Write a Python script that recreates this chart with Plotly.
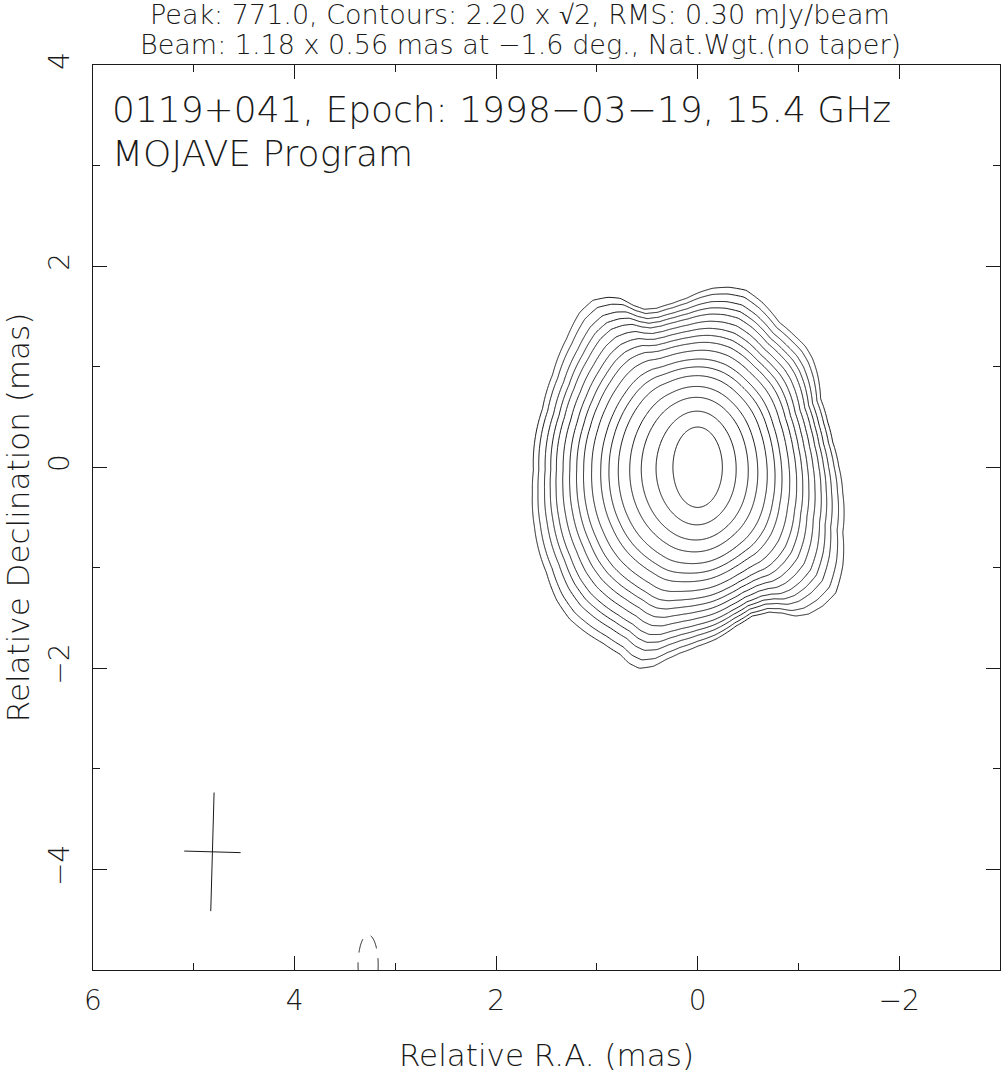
import numpy as np
import plotly.graph_objects as go

peak = 771.0            # mJy/beam
base_level = 2.20       # lowest contour, mJy/beam, steps of sqrt(2)
rms = 0.30
n_levels = 17           # 2.2 * sqrt(2)^k, k = 0..16

# Lowest (2.2 mJy/beam) contour traced on the map: RA, Dec offsets (mas)
outer_ra = [1.63, 1.54, 1.44, 1.30, 1.17, 1.04, 0.89, 0.77, 0.64, 0.53, 0.41, 0.25,
            0.11, -0.02, -0.15, -0.31, -0.48, -0.64, -0.81, -0.97, -1.07, -1.14,
            -1.19, -1.22, -1.29, -1.34, -1.40, -1.44, -1.44, -1.44, -1.37, -1.24,
            -1.10, -0.97, -0.84, -0.71, -0.54, -0.38, -0.18, 0.00, 0.18, 0.31, 0.44,
            0.58, 0.68, 0.77, 0.94, 1.10, 1.27, 1.40, 1.50, 1.57, 1.62, 1.64]
outer_dec = [-0.03, 0.58, 0.92, 1.28, 1.54, 1.66, 1.69, 1.68, 1.61, 1.57, 1.58, 1.63,
             1.68, 1.74, 1.78, 1.79, 1.76, 1.64, 1.44, 1.30, 1.20, 1.08, 0.92, 0.68,
             0.45, 0.25, 0.01, -0.26, -0.65, -0.98, -1.25, -1.38, -1.46, -1.48, -1.45,
             -1.44, -1.48, -1.58, -1.71, -1.78, -1.85, -1.91, -1.98, -2.00, -1.95,
             -1.86, -1.75, -1.65, -1.51, -1.32, -1.05, -0.85, -0.59, -0.26]

# Innermost (563 mJy/beam) contour half-sizes (mas)
inner_half_ra = 0.245
inner_half_dec = 0.40

# Radii of the 17 contours along the eastward ray (mas), lowest to highest level
east_profile = [1.64, 1.58, 1.51, 1.45, 1.39, 1.32, 1.25, 1.18, 1.11, 1.03, 0.94,
                0.86, 0.77, 0.66, 0.55, 0.41, 0.25]

# Negative (-2.2 mJy/beam) contour near the bottom edge
neg_center = (3.27, -4.95)
neg_half = (0.10, 0.30)

# Restoring beam: major, minor (mas), PA (deg), plotted position (RA, Dec)
beam_major = 1.18
beam_minor = 0.56
beam_pa = -1.6
beam_pos = (4.815, -3.825)

title_line1 = "Peak: 771.0, Contours: 2.20 x \u221a2, RMS: 0.30 mJy/beam"
title_line2 = "Beam: 1.18 x 0.56 mas at \u22121.6 deg., Nat.Wgt.(no taper)"
label_line1 = "0119+041, Epoch: 1998\u221203\u221219, 15.4 GHz"
label_line2 = "MOJAVE Program"

x_range = [6, -3]
y_range = [-5, 4]

# ---------------- build the map grid from the traced contours ----------------
ra = np.arange(-2.4, 2.4, 0.01)
dec = np.arange(-2.7, 2.5, 0.01)
X, Y = np.meshgrid(ra, dec)
R = np.hypot(X, Y)
TH = np.arctan2(Y, X)

oth = np.arctan2(outer_dec, outer_ra)
orr = np.hypot(outer_ra, outer_dec)
order = np.argsort(oth)

NT = 720
th_s = np.linspace(-np.pi, np.pi, NT, endpoint=False)
r0_s = np.interp(th_s, oth[order], orr[order], period=2 * np.pi)
F = np.fft.rfft(r0_s)
F[3:] = 0
r0_low = np.fft.irfft(F, NT)
r0_high = r0_s - r0_low
r16_s = 1.0 / np.sqrt((np.cos(th_s) / inner_half_ra) ** 2 + (np.sin(th_s) / inner_half_dec) ** 2)

ep = np.array(east_profile)
t = (ep - ep[-1]) / (ep[0] - ep[-1])      # 1 at lowest contour, 0 at innermost
Rk_s = (r16_s[None, :] + t[:, None] * (r0_low - r16_s)[None, :]
        + (t[:, None] ** 3) * r0_high[None, :])
RR = np.stack([np.interp(TH, th_s, Rk_s[k], period=2 * np.pi)
               for k in range(n_levels - 1, -1, -1)])      # ascending radius
j = (R[None] >= RR).sum(0)
jc = np.clip(j, 1, n_levels - 1)
lo = np.take_along_axis(RR, (jc - 1)[None], 0)[0]
hi = np.take_along_axis(RR, jc[None], 0)[0]
Z = (n_levels - 1 - (jc - 1)) - (R - lo) / (hi - lo)
k_peak = np.log(peak / base_level) / np.log(np.sqrt(2))
inside = j == 0
Z[inside] = (16 + (k_peak - 16) * (1 - (R / RR[0]) ** 2))[inside]

# negative blob
nra = np.arange(2.9, 3.7, 0.005)
ndec = np.arange(-5.4, -4.4, 0.005)
NX, NY = np.meshgrid(nra, ndec)
NZ = ((NX - neg_center[0]) / neg_half[0]) ** 2 + ((NY - neg_center[1]) / neg_half[1]) ** 2

# beam cross end points
pa = np.deg2rad(beam_pa)
maj_dx, maj_dy = np.sin(pa) * beam_major / 2, np.cos(pa) * beam_major / 2
min_dx, min_dy = np.cos(pa) * beam_minor / 2, -np.sin(pa) * beam_minor / 2
cross_x = [beam_pos[0] - maj_dx, beam_pos[0] + maj_dx, None,
           beam_pos[0] - min_dx, beam_pos[0] + min_dx]
cross_y = [beam_pos[1] - maj_dy, beam_pos[1] + maj_dy, None,
           beam_pos[1] - min_dy, beam_pos[1] + min_dy]

# ---------------- figure ----------------
FONT = "DejaVu Sans"
INK = "#1a1a1a"
black = [[0, INK], [1, INK]]

fig = go.Figure()
fig.add_trace(go.Contour(
    x=ra, y=dec, z=Z,
    contours=dict(start=0, end=n_levels - 1, size=1, coloring="lines"),
    line=dict(width=1, color=INK, smoothing=1),
    colorscale=black, showscale=False, hoverinfo="skip"))
fig.add_trace(go.Contour(
    x=nra, y=ndec, z=NZ,
    contours=dict(start=1, end=1, size=1, coloring="lines"),
    line=dict(width=1, color=INK, dash="14px,10px"),
    colorscale=black, showscale=False, hoverinfo="skip"))
fig.add_trace(go.Scatter(x=cross_x, y=cross_y, mode="lines",
                         line=dict(color=INK, width=1), hoverinfo="skip",
                         showlegend=False))

axis_common = dict(
    showline=True, linecolor=INK, linewidth=1, mirror="ticks",
    ticks="inside", ticklen=14, tickwidth=1, tickcolor=INK,
    dtick=2, tick0=0, showgrid=False, zeroline=False, automargin=False,
    tickfont=dict(family=FONT, size=28, color=INK, weight=200),
    minor=dict(dtick=1, tick0=0, ticks="inside", ticklen=7, tickwidth=1,
               tickcolor=INK, showgrid=False),
)
fig.update_xaxes(range=x_range, **axis_common, ticklabelstandoff=5,
                 title=dict(text="Relative R.A. (mas)", standoff=28,
                            font=dict(family=FONT, size=31, color=INK, weight=200)))
fig.update_yaxes(range=y_range, **axis_common, tickangle=-90, ticklabelstandoff=12,
                 title=dict(text="Relative Declination (mas)", standoff=18,
                            font=dict(family=FONT, size=31, color=INK, weight=200)))

# plot area spans 93..1000 x 65..970 on screen (page body margin removed below)
W, H = 1001, 1079
ML, MR, MT, MB = 93, 1, 65, 109
ph = H - MT - MB


def paper_y(screen_y):
    return 1 + (MT - screen_y) / ph


ann_font = dict(family=FONT, color=INK, weight=200)
fig.add_annotation(text=title_line1, xref="paper", yref="paper", x=0.471, y=paper_y(15),
                   showarrow=False, xanchor="center", yanchor="middle",
                   font=dict(size=27, **ann_font))
fig.add_annotation(text=title_line2, xref="paper", yref="paper", x=0.471, y=paper_y(44),
                   showarrow=False, xanchor="center", yanchor="middle",
                   font=dict(size=27, **ann_font))
fig.add_annotation(text=label_line1, xref="x", yref="y", x=5.83, y=3.56,
                   showarrow=False, xanchor="left", yanchor="middle",
                   font=dict(size=36, **ann_font))
fig.add_annotation(text=label_line2, xref="x", yref="y", x=5.83, y=3.12,
                   showarrow=False, xanchor="left", yanchor="middle",
                   font=dict(size=36, **ann_font))

fig.update_layout(
    width=W, height=H,
    margin=dict(l=ML, r=MR, t=MT, b=MB),
    paper_bgcolor="white", plot_bgcolor="white",
    showlegend=False,
)
fig.write_html("out.html",
               config={"displayModeBar": False},
               post_script="document.body.style.margin='0';"
                           "document.body.style.overflow='hidden';")
